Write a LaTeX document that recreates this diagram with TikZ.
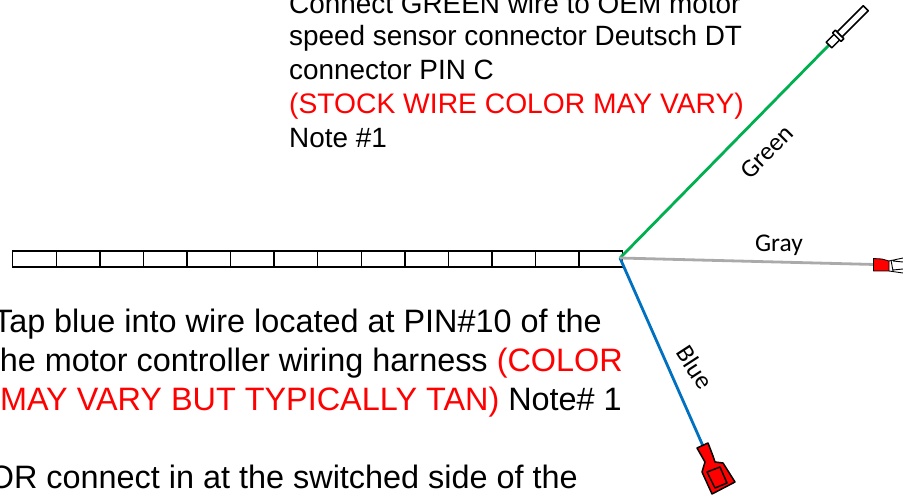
\documentclass[tikz,border=0pt]{standalone}
\usepackage{fontspec}
\setmainfont{Liberation Sans}
\newfontfamily\lblfont{Carlito}
\definecolor{wgreen}{RGB}{0,176,80}
\definecolor{wblue}{RGB}{0,112,192}
\definecolor{wgray}{RGB}{170,170,170}
\tikzset{
 top/.style={anchor=base west,inner sep=0,font=\fontsize{27.9}{32}\selectfont},
 topred/.style={anchor=base west,inner sep=0,text=red,font=\fontsize{28.25}{32}\selectfont},
 low/.style={anchor=base east,inner sep=0,font=\fontsize{32.4}{36}\selectfont},
 lbl/.style={inner sep=0,font=\lblfont\fontsize{25.5}{28}\selectfont},
 wire/.style={line width=2.8pt},
 part/.style={draw=black,line width=1.5pt,line join=round},
 cell/.style={draw=black,line width=1.4pt,fill=white,minimum height=16pt,minimum width=43.57pt,inner sep=0,anchor=west}
}
\begin{document}
\begin{tikzpicture}[x=1pt,y=-1pt]
\useasboundingbox (0,0) rectangle (903,497);
\clip (0,0) rectangle (903,497);
% harness strip
\foreach \i in {0,...,13}{
 \node[cell] (c\i) at ({12+43.57*\i},259) {};
}
\coordinate (hub) at (620,258);
\coordinate (gEnd) at (829,45);
\coordinate (yEnd) at (875,264.5);
\coordinate (bEnd) at (703,446);
\draw[wire,wgreen] (hub) -- (gEnd);
\draw[wire,wblue] (hub) -- (bEnd);
\draw[wire,wgray] (hub) -- (yEnd);
% green pin
\begin{scope}[shift={(gEnd)},rotate=45]
 \draw[part,fill=white] (0,-4) rectangle (14,4);
 \draw[part,fill=white] (11,-6) rectangle (15,6);
 \draw[part,fill=white] (15,-3.5) rectangle (52,3.5);
\end{scope}
% gray terminal
\draw[part,fill=red,line width=.8pt] (873.5,258.5) -- (882,259) -- (889,261) -- (889,271) -- (873.5,271) -- cycle;
\draw[black,line width=.9pt] (889,261) -- (903,258) (889,271) -- (903,273) (891,260) -- (893,271) (893,261) -- (903,262) (893,270) -- (903,269);
% blue terminal
\draw[part,fill=red] (697,448) -- (708,443) -- (713,456) -- (715,462) -- (723,463) -- (735,482) -- (712,494) -- (702,472) -- (705,462) -- cycle;
\draw[part,fill=red] (707,472) -- (720,467) -- (727,483) -- (715,488) -- cycle;
% labels
\node[lbl,rotate=45] (lg) at (767,152) {Green};
\node[lbl] (ly) at (779,245) {Gray};
\node[lbl,rotate=-57] (lb) at (695,367) {Blue};
% top text
\node[top] (t1) at (289,14) {Connect GREEN wire to OEM motor};
\node[top] (t2) at (289,46) {speed sensor connector Deutsch DT};
\node[top] (t3) at (289,80) {connector PIN C};
\node[topred] (t4) at (289,114) {(STOCK WIRE COLOR MAY VARY)};
\node[top] (t5) at (289,148) {Note \#1};
% lower text
\node[low] (b1) at (602,332) {Tap blue into wire located at PIN\#10 of the};
\node[low] (b2) at (623,371) {the motor controller wiring harness \textcolor{red}{(COLOR}};
\node[low] (b3) at (622,410) {\textcolor{red}{MAY VARY BUT TYPICALLY TAN)} Note\# 1};
\node[low] (b4) at (578,488) {OR connect in at the switched side of the};
\end{tikzpicture}
\end{document}
